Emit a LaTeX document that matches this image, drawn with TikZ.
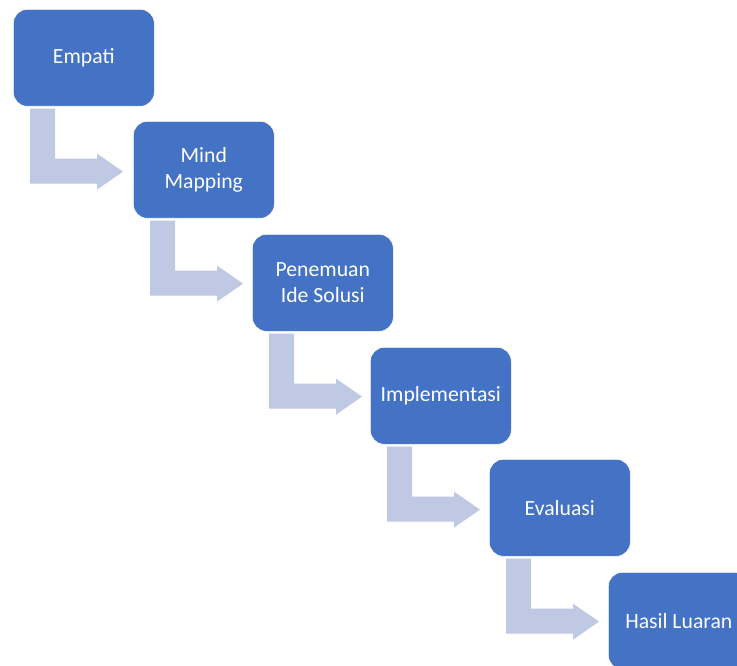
\documentclass[tikz,border=0pt]{standalone}
\usepackage{fontspec}
\setmainfont{Carlito}
\usetikzlibrary{calc}
\definecolor{boxblue}{HTML}{4472C4}
\definecolor{arrowblue}{HTML}{BFC9E3}
\tikzset{
  stepbox/.style={rectangle, rounded corners=14pt, fill=boxblue, draw=white, line width=0.6pt,
    minimum width=141pt, minimum height=97pt, inner sep=0pt, anchor=north west,
    text=white, align=center, font=\fontsize{21.7}{26}\selectfont},
  bendarrow/.style={fill=arrowblue, draw=none}
}
\begin{document}
\begin{tikzpicture}[x=1pt, y=-1pt]
\clip (0,0) rectangle (737,666);
\fill[white] (0,0) rectangle (737,666);
\node[stepbox] (n1) at (13,9) {Empati};
\node[stepbox] (n2) at (133,121) {Mind\\Mapping};
\node[stepbox] (n3) at (252,234) {Penemuan\\Ide Solusi};
\node[stepbox] (n4) at (370,347) {Implementasi};
\node[stepbox] (n5) at (489,459) {Evaluasi};
\node[stepbox] (n6) at (608,572) {Hasil Luaran};
\foreach \a/\b in {n1/n2, n2/n3, n3/n4, n4/n5, n5/n6}{
  \coordinate (tip-\a) at ($(\b.west)+(-10,0)$);
  \fill[bendarrow]
    ($(\a.south west)+(17,2)$) -- ($(\a.south west)+(42,2)$) -- ($(\a.south west)+(42,52)$)
    -- ($(\a.south west)+(84,52)$) -- ($(\a.south west)+(84,47)$)
    -- ($(\a.south west)+(110,65)$)
    -- ($(\a.south west)+(84,83)$) -- ($(\a.south west)+(84,77)$)
    -- ($(\a.south west)+(17,77)$) -- cycle;
}
\end{tikzpicture}
\end{document}
